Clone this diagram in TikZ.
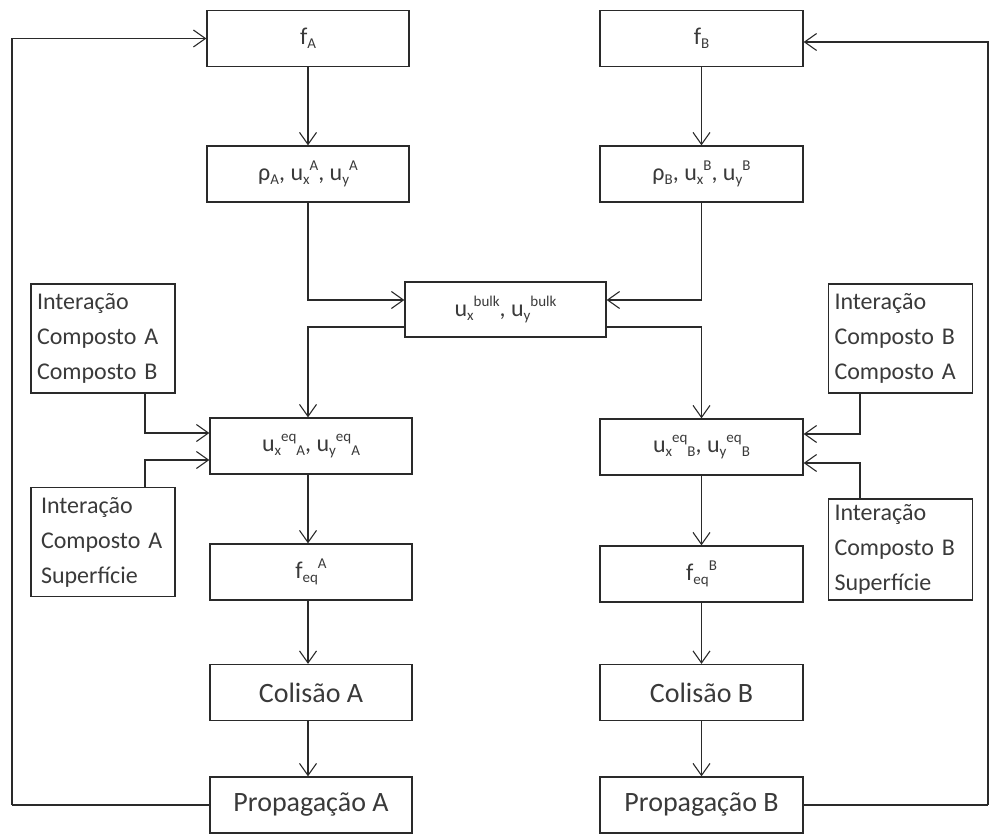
\documentclass[tikz,border=0pt]{standalone}
\usepackage{fontspec}
\setmainfont{Carlito}
\usetikzlibrary{arrows.meta,calc}
\definecolor{ln}{HTML}{2A2A2A}
\definecolor{tx}{HTML}{3A3A3A}
\newcommand\lowtxt[1]{\raisebox{-0.35ex}{\fontsize{15}{15}\selectfont #1}}
\newcommand\hightxt[1]{\raisebox{0.85ex}{\fontsize{15}{15}\selectfont #1}}
\begin{document}
\begin{tikzpicture}[x=1pt,y=-1pt,
  box/.style={draw=ln, line width=1.3pt, rectangle, inner sep=0pt, text=tx,
    minimum width=202pt, minimum height=56pt, font=\fontsize{24}{28}\selectfont},
  bigbox/.style={box, font=\fontsize{28}{32}\selectfont},
  sidebox/.style={draw=ln, line width=1.3pt, rectangle, inner xsep=6pt, inner ysep=0pt,
    text=tx, text width=132pt, align=left, minimum height=109pt,
    font=\fontsize{24}{35}\selectfont},
  arr/.style={draw=ln, line width=1.1pt, -{Straight Barb[length=12pt,width=17pt,line width=1.1pt]}},
  lin/.style={draw=ln, line width=1.1pt}]
\useasboundingbox (0,0) rectangle (990,834);
% column A
\node[box] (fA) at (308,38.5) {f\lowtxt{A}};
\node[box] (rhoA) at (308,174) {ρ\lowtxt{A}, u\lowtxt{x}\hightxt{A}, u\lowtxt{y}\hightxt{A}};
\node[box] (eqA) at (311,446) {u\lowtxt{x}\hightxt{eq}\lowtxt{A}, u\lowtxt{y}\hightxt{eq}\lowtxt{A}};
\node[box] (feqA) at (311,572) {f\lowtxt{eq}\hightxt{A}};
\node[bigbox] (colA) at (311,692.5) {Colisão A};
\node[bigbox] (propA) at (311,805) {Propagação A};
% column B
\node[box, minimum width=203pt] (fB) at (701.5,38.5) {f\lowtxt{B}};
\node[box, minimum width=203pt] (rhoB) at (701.5,174) {ρ\lowtxt{B}, u\lowtxt{x}\hightxt{B}, u\lowtxt{y}\hightxt{B}};
\node[box, minimum width=203pt] (eqB) at (701.5,447) {u\lowtxt{x}\hightxt{eq}\lowtxt{B}, u\lowtxt{y}\hightxt{eq}\lowtxt{B}};
\node[box, minimum width=203pt] (feqB) at (701.5,574) {f\lowtxt{eq}\hightxt{B}};
\node[bigbox, minimum width=203pt] (colB) at (701.5,692.5) {Colisão B};
\node[bigbox, minimum width=203pt] (propB) at (701.5,805) {Propagação B};
% bulk
\node[box, minimum width=201pt, minimum height=55pt] (bulk) at (505.5,309.5) {u\lowtxt{x}\hightxt{bulk}, u\lowtxt{y}\hightxt{bulk}};
% side boxes
\node[sidebox] (A1) at (103,338.5) {Interação\\Composto A\\Composto B};
\node[sidebox] (A2) at (103,542) {\hspace{4pt}Interação\\\hspace{4pt}Composto A\\\hspace{4pt}Superfície};
\node[sidebox, minimum height=109pt] (B1) at (900.5,338.5) {Interação\\Composto B\\Composto A};
\node[sidebox, minimum height=101pt] (B2) at (900.5,549.5) {Interação\\Composto B\\Superfície};
% free ends of feedback loops
\coordinate (lA) at (12,805);
\coordinate (rB) at (988,805);
% vertical flows
\draw[arr] (fA.south) -- (rhoA.north);
\draw[arr] (fB.south) -- (rhoB.north);
\draw[arr] (rhoA.south -| fA.south) |- ($(bulk.west)+(0,-9.5)$);
\draw[arr] (rhoB.south) |- ($(bulk.east)+(0,-9.5)$);
\draw[arr] ($(bulk.west)+(0,17.5)$) -| (eqA.north -| fA.south);
\draw[arr] ($(bulk.east)+(0,17.5)$) -| (eqB.north);
\draw[arr] (eqA.south -| fA.south) -- (feqA.north -| fA.south);
\draw[arr] (feqA.south -| fA.south) -- (colA.north -| fA.south);
\draw[arr] (colA.south -| fA.south) -- (propA.north -| fA.south);
\draw[arr] (eqB.south) -- (feqB.north);
\draw[arr] (feqB.south) -- (colB.north);
\draw[arr] (colB.south) -- (propB.north);
% side inputs
\draw[arr] ($(A1.south)+(42,0)$) |- ($(eqA.west)+(0,-13)$);
\draw[arr] ($(A2.north)+(42,0)$) |- ($(eqA.west)+(0,14)$);
\draw[arr] ($(B1.south)+(-40.5,0)$) |- ($(eqB.east)+(0,-13)$);
\draw[arr] ($(B2.north)+(-40.5,0)$) |- ($(eqB.east)+(0,16)$);
% feedback loops
\draw[lin] (propA.west) -- (propA.west -| lA);
\draw[arr] (propA.west -| lA) |- (fA.west);
\draw[lin] (propB.east) -- (propB.east -| rB);
\draw[arr] (propB.east -| rB) |- ($(fB.east)+(0,3.5)$);
\end{tikzpicture}
\end{document}
